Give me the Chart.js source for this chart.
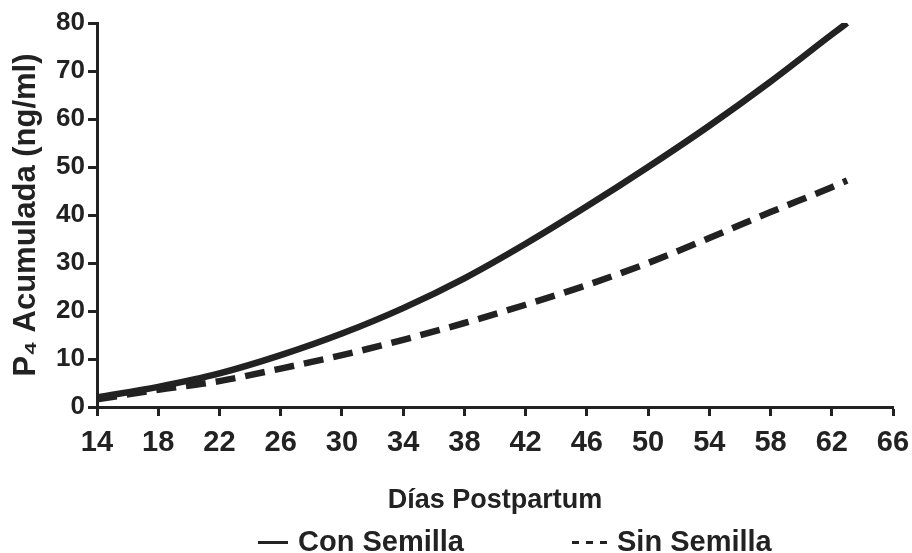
<!DOCTYPE html>
<html>
<head>
<meta charset="utf-8">
<script src="https://cdn.jsdelivr.net/npm/chart.js@4.4.0/dist/chart.umd.min.js"></script>
<style>
  html, body { margin: 0; padding: 0; background: #fff; }
  #wrap { position: relative; width: 912px; height: 553px; }
  #legend { position: absolute; top: 524px; left: 0; width: 912px; height: 34px;
    font: bold 29px "Liberation Sans", Arial, sans-serif; color: #222; line-height: 34px; }
  .item { position: absolute; top: 0; white-space: nowrap; }
  .sym { display: inline-block; height: 3px; vertical-align: middle; margin-right: 10px; position: relative; top: -1px; }
  .solid { width: 30px; background: #222; }
  .dash { width: 35px; background: repeating-linear-gradient(to right, #222 0 7px, transparent 7px 14px); }
</style>
</head>
<body>
<div id="wrap">
  <canvas id="chart" width="912" height="553"></canvas>
  <div id="legend">
    <span class="item" style="left:258px"><span class="sym solid"></span>Con Semilla</span>
    <span class="item" style="left:572px"><span class="sym dash"></span>Sin Semilla</span>
  </div>
</div>
<script>
// days postpartum and cumulative P4 (ng/ml)
const dias = [14, 18, 22, 26, 30, 34, 38, 42, 46, 50, 54, 58, 62, 63];
const conSemilla = [2.0, 4.2, 7.0, 10.8, 15.3, 20.6, 26.8, 34.0, 41.8, 50.0, 58.6, 67.8, 77.6, 80.0];
const sinSemilla = [1.6, 3.6, 5.4, 8.0, 10.8, 14.0, 17.5, 21.3, 25.4, 30.0, 35.2, 40.6, 45.8, 47.2];
const xTicks = [14, 18, 22, 26, 30, 34, 38, 42, 46, 50, 54, 58, 62, 66];
const yTicks = [0, 10, 20, 30, 40, 50, 60, 70, 80];

const ink = "#222";
const fam = '"Liberation Sans", Arial, sans-serif';

function points(ys) {
  return dias.map((d, i) => ({ x: d, y: ys[i] }));
}

new Chart(document.getElementById("chart"), {
  type: "line",
  data: {
    datasets: [
      {
        label: "Con Semilla",
        data: points(conSemilla),
        borderColor: ink,
        borderWidth: 6.5,
        pointRadius: 0,
        cubicInterpolationMode: "monotone",
        fill: false
      },
      {
        label: "Sin Semilla",
        data: points(sinSemilla),
        borderColor: ink,
        borderWidth: 6.5,
        borderDash: [20, 10],
        pointRadius: 0,
        cubicInterpolationMode: "monotone",
        fill: false
      }
    ]
  },
  options: {
    responsive: false,
    animation: false,
    layout: { padding: { top: 23, right: 19, bottom: 36, left: 0 } },
    plugins: { legend: { display: false }, tooltip: { enabled: false } },
    scales: {
      x: {
        type: "linear",
        min: xTicks[0],
        max: xTicks[xTicks.length - 1],
        afterBuildTicks: s => { s.ticks = xTicks.map(v => ({ value: v })); },
        afterFit: s => { s.height = 110; s.paddingLeft = 0; s.paddingRight = 0; },
        border: { color: ink, width: 3 },
        grid: { drawOnChartArea: false, drawTicks: true, tickLength: 9, tickColor: ink, tickWidth: 3 },
        ticks: { color: ink, padding: 10, font: { family: fam, size: 29, weight: "bold" } },
        title: {
          display: true,
          text: "Días Postpartum",
          color: ink,
          padding: 0,
          font: { family: fam, size: 27, weight: "bold" }
        }
      },
      y: {
        min: yTicks[0],
        max: yTicks[yTicks.length - 1],
        afterBuildTicks: s => { s.ticks = yTicks.map(v => ({ value: v })); },
        afterFit: s => { s.width = 97; },
        border: { color: ink, width: 3 },
        grid: { drawOnChartArea: false, drawTicks: true, tickLength: 9, tickColor: ink, tickWidth: 3 },
        ticks: { color: ink, padding: 3, font: { family: fam, size: 26, weight: "bold" } },
        title: {
          display: true,
          text: "P₄ Acumulada (ng/ml)",
          color: ink,
          padding: { top: 8, bottom: 0 },
          font: { family: fam, size: 31, weight: "bold" }
        }
      }
    }
  }
});
</script>
</body>
</html>
